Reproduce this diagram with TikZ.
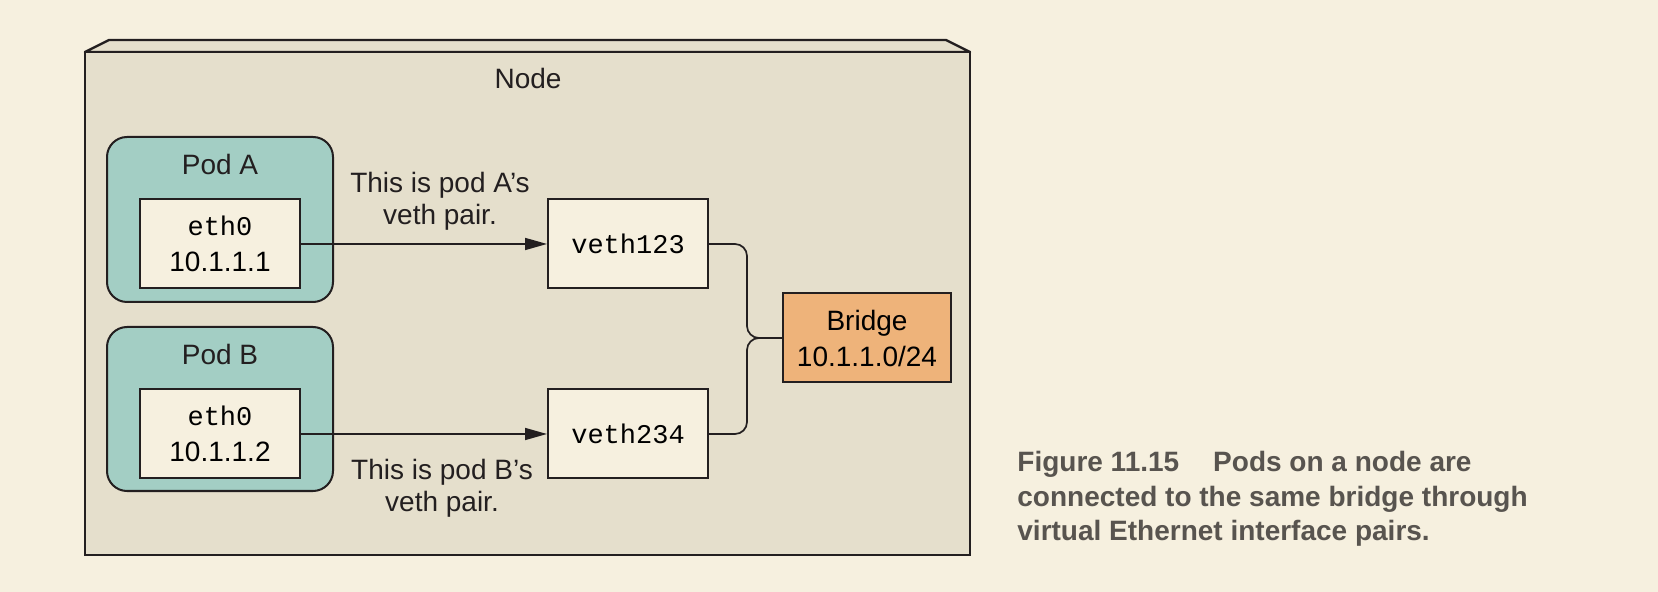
\documentclass[tikz,border=0pt]{standalone}
\usepackage{fontspec}
\setmainfont{Liberation Sans}
\newfontfamily\monofont{Liberation Mono}
\usetikzlibrary{arrows.meta,calc}
\definecolor{bgcream}{HTML}{F6F0DF}
\definecolor{nodefill}{HTML}{E5DFCC}
\definecolor{podfill}{HTML}{A3CEC4}
\definecolor{boxfill}{HTML}{F6F0DF}
\definecolor{bridgefill}{HTML}{EEB37A}
\definecolor{inkline}{HTML}{231F20}
\definecolor{capgray}{HTML}{58544F}
\tikzset{
  podbox/.style={draw=inkline, line width=1pt, fill=podfill, rounded corners=10pt, minimum width=113pt},
  ifbox/.style={draw=inkline, line width=1pt, fill=boxfill, minimum width=80pt, minimum height=44.5pt, inner sep=0pt, align=center},
  bridgebox/.style={draw=inkline, line width=1pt, fill=bridgefill, minimum width=84pt, minimum height=44.5pt, inner sep=0pt, align=center},
  txt/.style={font=\fontsize{14pt}{16pt}\selectfont, text=inkline, inner sep=0pt, align=center},
  conn/.style={draw=inkline, line width=0.85pt},
  arr/.style={conn, -{Triangle[length=11pt,width=6pt]}},
  captxt/.style={font=\fontsize{14pt}{17pt}\selectfont\bfseries, text=capgray, inner sep=0pt, anchor=base west}
}
\begin{document}
\begin{tikzpicture}[x=0.5pt,y=-0.5pt]
\useasboundingbox[fill=bgcream] (0,0) rectangle (1658,592);
% Node container
\draw[draw=inkline, line width=1.2pt, fill=nodefill, line join=round] (85,52) -- (109,40) -- (946,40) -- (970,52) -- cycle;
\draw[draw=inkline, line width=1.2pt, fill=nodefill] (85,52) rectangle (970,555);
\node[txt] (nodelabel) at (528,78) {Node};
% Pods
\node[podbox, minimum height=82.5pt] (podA) at (220,219.5) {};
\node[podbox, minimum height=82pt] (podB) at (220,409) {};
\node[txt] (podAlabel) at (220,164) {Pod A};
\node[txt] (podBlabel) at (220,354) {Pod B};
% interfaces
\node[ifbox, font=\fontsize{14pt}{18.3pt}\selectfont] (ethA) at (220,244) {{\monofont\fontsize{13.5pt}{18.3pt}\selectfont eth0}\\10.1.1.1};
\node[ifbox, font=\fontsize{14pt}{18.3pt}\selectfont] (ethB) at (220,434) {{\monofont\fontsize{13.5pt}{18.3pt}\selectfont eth0}\\10.1.1.2};
\node[ifbox, font=\monofont\fontsize{13.5pt}{16pt}\selectfont] (vethA) at (628,244) {veth123};
\node[ifbox, font=\monofont\fontsize{13.5pt}{16pt}\selectfont] (vethB) at (628,434) {veth234};
\node[bridgebox, font=\fontsize{14pt}{18pt}\selectfont] (bridge) at (867,338) {Bridge\\10.1.1.0/24};
% connectors
\draw[arr] (ethA.east) -- (vethA.west);
\draw[arr] (ethB.east) -- (vethB.west);
\coordinate (join) at (747,338);
\draw[conn, rounded corners=6pt] (vethA.east) -| (join) -- (bridge.west);
\draw[conn, rounded corners=6pt] (vethB.east) -| (join) -- (bridge.west);
% labels
\node[txt] (labA) at (440,201) {This is pod A’s\\veth pair.};
\node[txt] (labB) at (442,488) {This is pod B’s\\veth pair.};
% caption
\node[captxt] (cap1) at (1017,472) {Figure 11.15\hspace{17pt}Pods on a node are};
\node[captxt] (cap2) at (1017,506) {connected to the same bridge through};
\node[captxt] (cap3) at (1017,540) {virtual Ethernet interface pairs.};
\end{tikzpicture}
\end{document}
